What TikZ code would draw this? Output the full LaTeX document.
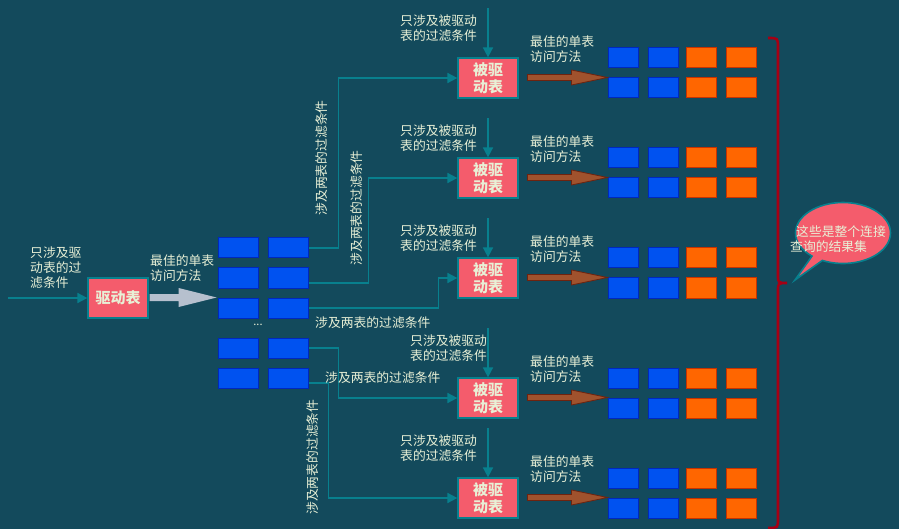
\documentclass[tikz,border=0pt]{standalone}
\usepackage{fontspec}
\setmainfont{Noto Sans CJK SC}
\usetikzlibrary{arrows.meta,shapes.callouts,calc}
\definecolor{bg}{RGB}{19,74,92}
\definecolor{pinkbox}{RGB}{244,92,108}
\definecolor{tealline}{RGB}{8,128,142}
\definecolor{cream}{RGB}{232,240,214}
\definecolor{blueb}{RGB}{0,82,240}
\definecolor{bluebd}{RGB}{0,40,190}
\definecolor{orangeb}{RGB}{255,102,0}
\definecolor{orangebd}{RGB}{200,50,0}
\definecolor{brownar}{RGB}{160,82,45}
\definecolor{brownbd}{RGB}{110,35,15}
\definecolor{grayar}{RGB}{182,192,206}
\definecolor{bracered}{RGB}{165,0,20}
\begin{document}
\begin{tikzpicture}[x=1pt,y=-1pt,
  lbl/.style={text=cream,font=\fontsize{12.8}{15}\selectfont,inner sep=0pt,align=left},
  tbox/.style={draw=tealline,line width=1.2pt,fill=pinkbox,minimum width=60pt,minimum height=40pt,inner sep=0pt,text=cream,font=\fontsize{15}{17}\selectfont\bfseries,align=center},
  bluecell/.style={draw=bluebd,line width=1pt,fill=blueb,minimum width=40pt,minimum height=20pt,inner sep=0pt},
  rblue/.style={draw=bluebd,line width=1pt,fill=blueb,minimum width=30pt,minimum height=20pt,inner sep=0pt},
  rorange/.style={draw=orangebd,line width=1pt,fill=orangeb,minimum width=30pt,minimum height=20pt,inner sep=0pt},
  conn/.style={draw=tealline,line width=1.6pt,-{Triangle[length=10pt,width=10pt]}},
  brownarrow/.style={fill=brownar,draw=brownbd,line width=0.8pt},
  grayarrow/.style={fill=grayar},
  bracestyle/.style={draw=bracered,line width=2.6pt}
]
\useasboundingbox (0,0) rectangle (899,529);
\fill[bg] (0,0) rectangle (899,529);

% driving table
\node[tbox] (drv) at (118,298) {驱动表};
\coordinate (inl) at (8,298);
\draw[conn] (inl) -- (drv.west);
\node[lbl,anchor=west] (inlbl) at (30,268) {只涉及驱\\动表的过\\滤条件};
\node[lbl,anchor=west] (bestmain) at (150,268) {最佳的单表\\访问方法};

% blue table of driving rows
\foreach \i/\y in {1/248,2/278,3/308,4/348,5/378}{
  \node[bluecell] (l\i) at (238,\y) {};
  \node[bluecell] (r\i) at (288,\y) {};
}
\node[text=cream,font=\fontsize{11}{12}\selectfont,inner sep=0pt] (dots) at (258,325) {...};

% gray block arrow
\fill[grayarrow] ($(l3.north west)+(-68,-3.5)$) -- ($(l3.north west)+(-39,-3.5)$) -- ($(l3.north west)+(-39,-9.5)$) -- ($(l3.north west)+(-1,0)$) -- ($(l3.north west)+(-39,9.5)$) -- ($(l3.north west)+(-39,3.5)$) -- ($(l3.north west)+(-68,3.5)$) -- cycle;

% driven tables
\foreach \k/\c in {1/78,2/178,3/278,4/398,5/498}{
  \node[tbox] (d\k) at (488,\c) {被驱\\动表};
  \node[lbl,anchor=west] (best\k) at (530,\c-29) {最佳的单表\\访问方法};
  \foreach \j/\x in {1/623,2/663}{
    \node[rblue] (g\k a\j) at (\x,\c-20) {};
    \node[rblue] (g\k b\j) at (\x,\c+10) {};
  }
  \foreach \j/\x in {3/701,4/741}{
    \node[rorange] (g\k a\j) at (\x,\c-20) {};
    \node[rorange] (g\k b\j) at (\x,\c+10) {};
  }
  \filldraw[brownarrow] ($(g\k b1.north west)+(-80,-3)$) -- ($(g\k b1.north west)+(-36,-3)$) -- ($(g\k b1.north west)+(-36,-7.5)$) -- (g\k b1.north west) -- ($(g\k b1.north west)+(-36,7.5)$) -- ($(g\k b1.north west)+(-36,3)$) -- ($(g\k b1.north west)+(-80,3)$) -- cycle;
}
\foreach \k/\t/\tx in {1/8/400,2/118/400,3/218/400,4/328/410,5/428/400}{
  \coordinate (top\k) at (488,\t);
  \draw[conn] (top\k) -- (d\k.north);
  \node[lbl,anchor=west] (only\k) at (\tx,\t+20.5) {只涉及被驱动\\表的过滤条件};
}

% connectors from driving rows
\draw[conn] (r1.east) -- ++(30,0) |- (d1.west);
\draw[conn] ($(r2.east)+(0,5)$) -- ++(60,0) |- (d2.west);
\draw[conn] (r3.east) -- ++(130,0) |- (d3.west);
\draw[conn] (r4.east) -- ++(30,0) |- (d4.west);
\draw[conn] ($(r5.east)+(0,5)$) -- ++(20,0) |- (d5.west);

% two-table condition labels
\node[lbl,rotate=90] (both1) at (322,158) {涉及两表的过滤条件};
\node[lbl,rotate=90] (both2) at (357,208) {涉及两表的过滤条件};
\node[lbl,anchor=west] (both3) at (315,323) {涉及两表的过滤条件};
\node[lbl,anchor=west] (both4) at (325,378) {涉及两表的过滤条件};
\node[lbl,rotate=90] (both5) at (313,457) {涉及两表的过滤条件};

% brace
\draw[bracestyle] (768,38) .. controls (778,38) .. (778,48) -- (778,275) .. controls (778,283) .. (787,283) .. controls (778,283) .. (778,291) -- (778,518) .. controls (778,528) .. (768,528);

% callout
\node[ellipse callout,draw=tealline,line width=1.6pt,fill=pinkbox,minimum width=95pt,minimum height=61pt,callout absolute pointer={(795,280)}] (call) at (843,233) {};
\node[lbl,anchor=west] (calltxt) at (790,239) {\hspace*{6pt}这些是整个连接\\查询的结果集};
\end{tikzpicture}
\end{document}
